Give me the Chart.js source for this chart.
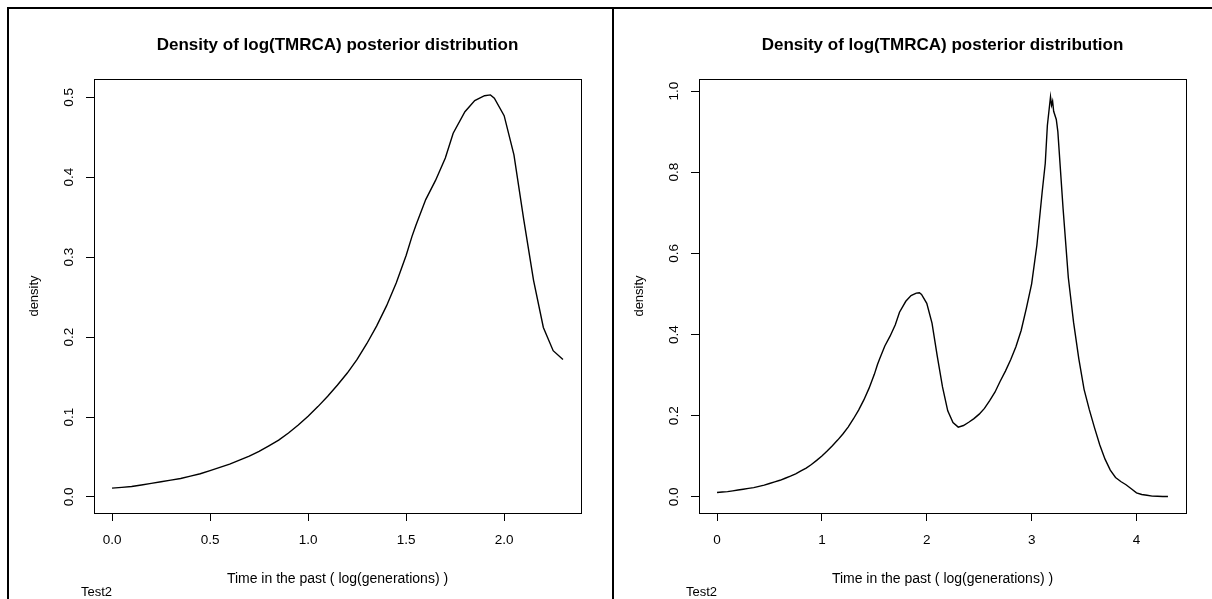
<!DOCTYPE html>
<html><head><meta charset="utf-8">
<script src="https://cdn.jsdelivr.net/npm/chart.js@4.4.1/dist/chart.umd.min.js"></script>
<style>
html,body{margin:0;padding:0;background:#fff;width:1212px;height:599px;overflow:hidden;}
#wrap{position:relative;width:1212px;height:599px;}
canvas{position:absolute;left:0;top:0;}
.ln{position:absolute;background:#000;}
</style></head><body>
<div id="wrap">
<canvas id="c1" width="1212" height="599"></canvas>
<canvas id="c2" width="1212" height="599"></canvas>
<div class="ln" style="left:7px;top:7px;width:1205px;height:2px"></div>
<div class="ln" style="left:7px;top:7px;width:2px;height:592px"></div>
<div class="ln" style="left:612px;top:7px;width:2px;height:592px"></div>
</div>
<script>
// ---- data ----
const titleText = "Density of log(TMRCA) posterior distribution";
const xTitle = "Time in the past ( log(generations) )";
const yTitle = "density";
const subText = "Test2";

// left panel: log(TMRCA) density, truncated at 2.3
const leftX = [0.00,0.05,0.10,0.15,0.20,0.25,0.30,0.35,0.40,0.45,0.50,0.55,0.60,0.65,0.70,0.75,0.80,0.85,0.90,0.95,
  1.00,1.05,1.10,1.15,1.20,1.25,1.30,1.35,1.40,1.45,1.50,1.53,1.55,1.60,1.65,1.70,1.74,1.80,1.85,1.90,1.93,1.95,
  2.00,2.05,2.10,2.15,2.20,2.25,2.30];
const leftY = [0.011,0.012,0.013,0.015,0.017,0.019,0.021,0.023,0.026,0.029,0.033,0.037,0.041,0.046,0.051,0.057,0.064,0.071,0.080,0.090,
  0.101,0.113,0.126,0.140,0.155,0.172,0.192,0.214,0.239,0.268,0.302,0.326,0.340,0.372,0.396,0.424,0.455,0.482,0.496,0.502,0.503,0.499,
  0.477,0.428,0.347,0.271,0.212,0.183,0.172];

// right panel: same curve continued beyond 2.3
const rightTailX = [2.35,2.40,2.45,2.50,2.55,2.60,2.65,2.70,2.75,2.80,2.85,2.90,2.95,3.00,3.05,3.10,3.13,3.15,3.18,3.19,3.20,3.21,3.235,3.25,
  3.30,3.35,3.40,3.45,3.50,3.55,3.60,3.65,3.70,3.75,3.80,3.85,3.90,3.95,4.00,4.05,4.10,4.15,4.20,4.25,4.30];
const rightTailY = [0.176,0.184,0.193,0.204,0.218,0.237,0.258,0.285,0.310,0.338,0.370,0.410,0.465,0.525,0.620,0.750,0.822,0.915,0.986,0.965,0.975,0.950,0.930,0.900,
  0.710,0.540,0.430,0.340,0.265,0.215,0.170,0.128,0.093,0.066,0.048,0.038,0.030,0.020,0.010,0.006,0.004,0.002,0.0015,0.001,0.001];

const leftXTicks = [0, 0.5, 1.0, 1.5, 2.0];
const leftXTickLabels = ["0.0","0.5","1.0","1.5","2.0"];
const leftYTicks = [0, 0.1, 0.2, 0.3, 0.4, 0.5];
const leftYTickLabels = ["0.0","0.1","0.2","0.3","0.4","0.5"];
const rightXTicks = [0, 1, 2, 3, 4];
const rightXTickLabels = ["0","1","2","3","4"];
const rightYTicks = [0, 0.2, 0.4, 0.6, 0.8, 1.0];
const rightYTickLabels = ["0.0","0.2","0.4","0.6","0.8","1.0"];

const rightX = leftX.concat(rightTailX);
const rightY = leftY.concat(rightTailY);

// ---- drawing ----
const FONT = "'Liberation Sans', Arial, Helvetica, sans-serif";
Chart.defaults.font.family = FONT;
Chart.defaults.color = '#000';

const boxPlugin = {
  id: 'rbox',
  afterDraw(chart) {
    const {ctx, chartArea: a} = chart;
    ctx.save();
    ctx.strokeStyle = '#000';
    ctx.lineWidth = 1;
    ctx.strokeRect(Math.round(a.left) + 0.5, Math.round(a.top) + 0.5, Math.round(a.right - a.left), Math.round(a.bottom - a.top));
    ctx.fillStyle = '#000';
    ctx.font = "13px " + FONT;
    ctx.textAlign = 'left';
    ctx.textBaseline = 'middle';
    ctx.fillText(subText, a.left - 13, 592);
    ctx.restore();
  }
};

function makeChart(id, xs, ys, o) {
  const pts = xs.map((x, i) => ({x: x, y: ys[i]}));
  return new Chart(document.getElementById(id), {
    type: 'scatter',
    data: { datasets: [{ data: pts, showLine: true, borderColor: '#000', borderWidth: 1.4, pointRadius: 0, tension: 0, fill: false }] },
    options: {
      responsive: false, animation: false, devicePixelRatio: 1,
      layout: { padding: { left: o.padLeft, right: o.padRight, top: 0, bottom: 0 } },
      plugins: {
        legend: { display: false }, tooltip: { enabled: false },
        title: { display: true, text: titleText, fullSize: false, color: '#000',
          font: { size: 17, weight: 'bold', family: FONT }, padding: { top: 35, bottom: 23.6 } }
      },
      scales: {
        x: {
          type: 'linear', min: o.xMin, max: o.xMax,
          afterBuildTicks: ax => { ax.ticks = o.xTicks.map(v => ({value: v})); },
          afterFit: s => { s.height = 86; },
          ticks: { autoSkip: false, maxRotation: 0, padding: 11, color: '#000', font: { size: 13.5 },
            callback: (v, i) => o.xLabels[i] },
          grid: { display: true, drawOnChartArea: false, drawTicks: true, tickLength: 8, color: '#000', tickColor: '#000', lineWidth: 1 },
          border: { display: false },
          title: { display: true, text: xTitle, color: '#000', font: { size: 14 }, padding: { top: 0, bottom: 11.6 } }
        },
        y: {
          type: 'linear', min: o.yMin, max: o.yMax,
          afterBuildTicks: ax => { ax.ticks = o.yTicks.map(v => ({value: v})); },
          afterFit: s => { s.width = 74; },
          ticks: { autoSkip: false, minRotation: 90, maxRotation: 90, crossAlign: 'center', padding: 7, color: '#000', font: { size: 13.5 },
            callback: (v, i) => o.yLabels[i] },
          grid: { display: true, drawOnChartArea: false, drawTicks: true, tickLength: 8, color: '#000', tickColor: '#000', lineWidth: 1 },
          border: { display: false },
          title: { display: true, text: yTitle, color: '#000', font: { size: 13 }, padding: { top: 7, bottom: 0 } }
        }
      }
    },
    plugins: [boxPlugin]
  });
}

makeChart('c1', leftX, leftY, {
  padLeft: 20, padRight: 1212 - 581,
  xMin: -0.092, xMax: 2.392, yMin: -0.0201, yMax: 0.5229,
  xTicks: leftXTicks, xLabels: leftXTickLabels, yTicks: leftYTicks, yLabels: leftYTickLabels
});
makeChart('c2', rightX, rightY, {
  padLeft: 625, padRight: 1212 - 1186,
  xMin: -0.172, xMax: 4.472, yMin: -0.0396, yMax: 1.0296,
  xTicks: rightXTicks, xLabels: rightXTickLabels, yTicks: rightYTicks, yLabels: rightYTickLabels
});
</script>
</body></html>
